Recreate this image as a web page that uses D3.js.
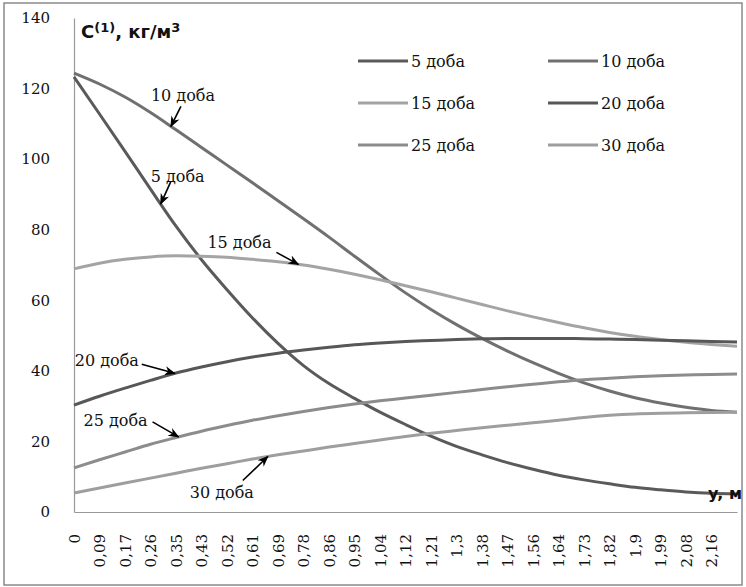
<!DOCTYPE html>
<html>
<head>
<meta charset="utf-8">
<script src="https://cdn.jsdelivr.net/npm/d3@7"></script>
<style>
  body { margin: 0; background: #fff; }
  svg { display: block; }
</style>
</head>
<body>
<div id="chart"></div>
<script>
/* DATA */
const xLabels = ["0","0,09","0,17","0,26","0,35","0,43","0,52","0,61","0,69","0,78","0,86","0,95",
  "1,04","1,12","1,21","1,3","1,38","1,47","1,56","1,64","1,73","1,82","1,9","1,99","2,08","2,16"];
const yTicks = [0, 20, 40, 60, 80, 100, 120, 140];

// one value per x step (27 steps, the last one has no label)
const day5 = [123.3,112.8,102.2,91.5,81,71.5,63,55,47.8,41.5,36.4,32.2,28.3,24.8,21.5,18.6,16.2,14,12.1,10.4,9.1,8,7,6.3,5.7,5.3,5.1];
const day10 = [124.4,121.3,117.6,113.2,108.3,103.3,98.3,93.3,88.2,83.1,77.9,72.5,67.2,62.1,57.4,53.1,49.2,45.6,42.3,39.3,36.6,34.3,32.4,30.9,29.7,28.8,28.3];
const day15 = [68.9,70.5,71.6,72.3,72.6,72.5,72.2,71.6,70.9,70,68.8,67.4,65.8,64.1,62.4,60.6,58.8,57,55.3,53.7,52.2,50.9,49.8,48.9,48.1,47.5,47];
const day20 = [30.3,32.8,35.1,37.3,39.4,41.1,42.6,43.9,45,45.9,46.7,47.4,47.9,48.3,48.6,48.9,49.1,49.2,49.2,49.2,49.1,49,48.9,48.7,48.5,48.3,48.2];
const day25 = [12.5,14.8,17,19.2,21.1,22.9,24.5,26,27.3,28.5,29.6,30.6,31.5,32.3,33.1,33.9,34.7,35.5,36.2,36.9,37.5,37.9,38.3,38.6,38.8,39,39.1];
const day30 = [5.4,6.8,8.2,9.6,11,12.4,13.7,15,16.2,17.3,18.4,19.4,20.4,21.4,22.3,23.1,23.9,24.6,25.3,26,26.8,27.4,27.8,28,28.1,28.2,28.3];

const seriesNames = ["5 доба", "10 доба", "15 доба", "20 доба", "25 доба", "30 доба"];
const seriesValues = [day5, day10, day15, day20, day25, day30];
const seriesColors = ["#5a5a5a", "#707070", "#a4a4a4", "#575757", "#8c8c8c", "#9e9e9e"];

// callouts: which series, at which x step the arrow points
const callouts = [
  { s: 1, at: 3.8,  tx: -20, ty: -25, ax: 10, ay: -20 },
  { s: 0, at: 3.4,  tx: -10, ty: -22, ax: 10, ay: -22 },
  { s: 2, at: 8.8,  tx: -91, ty: -16, ax: -22, ay: -12 },
  { s: 3, at: 3.95, tx: -100, ty: -7, ax: -33, ay: -9 },
  { s: 4, at: 4.1,  tx: -95,  ty: -11, ax: -26, ay: -15 },
  { s: 5, at: 7.6,  tx: -78, ty: 41, ax: -25, ay: 24 }
];

/* LAYOUT */
const W = 746, H = 587;
const margin = { left: 74, right: 9, top: 18, bottom: 75 };

const svg = d3.select("#chart").append("svg")
  .attr("width", W).attr("height", H);

svg.append("rect")
  .attr("x", 4).attr("y", 3)
  .attr("width", W - 8).attr("height", H - 5)
  .attr("fill", "#fff").attr("stroke", "#8a8a8a").attr("stroke-width", 1.5);

const x = d3.scaleLinear()
  .domain([0, day5.length - 1])
  .range([margin.left, W - margin.right]);

const y = d3.scaleLinear()
  .domain([0, 140])
  .range([H - margin.bottom, margin.top]);

// y axis
const yAxis = svg.append("g")
  .attr("transform", `translate(${margin.left},0)`)
  .call(d3.axisLeft(y).tickValues(yTicks).tickSize(0).tickPadding(24).tickFormat(d3.format("d")));
yAxis.select(".domain").attr("stroke", "#999").attr("stroke-width", 1.2);
yAxis.selectAll("text")
  .attr("font-family", "DejaVu Serif").attr("font-size", 15).attr("fill", "#111");

// x axis
const xAxis = svg.append("g")
  .attr("transform", `translate(0,${y(0)})`)
  .call(d3.axisBottom(x).tickValues(d3.range(xLabels.length)).tickSize(0)
    .tickFormat(i => xLabels[i]));
xAxis.select(".domain").attr("stroke", "#999").attr("stroke-width", 1.2);
xAxis.selectAll("text")
  .attr("font-family", "DejaVu Serif").attr("font-size", 15).attr("fill", "#111")
  .attr("text-anchor", "end")
  .attr("transform", "rotate(-90)")
  .attr("x", -22).attr("y", 0).attr("dy", "0.35em");

// lines
const line = d3.line()
  .x((d, i) => x(i))
  .y(d => y(d))
  .curve(d3.curveMonotoneX);

svg.append("g")
  .selectAll("path")
  .data(seriesValues)
  .join("path")
  .attr("d", line)
  .attr("fill", "none")
  .attr("stroke", (d, i) => seriesColors[i])
  .attr("stroke-width", 3);

// axis titles
const yTitle = svg.append("text")
  .attr("x", 81).attr("y", 38)
  .attr("font-family", "DejaVu Sans").attr("font-weight", "bold")
  .attr("font-size", 18).attr("fill", "#111");
yTitle.append("tspan").text("C");
yTitle.append("tspan").attr("font-size", 13).attr("dy", -6).text("(1)");
yTitle.append("tspan").attr("dy", 6).text(", кг/м");
yTitle.append("tspan").attr("font-size", 13).attr("dy", -6).text("3");

svg.append("text")
  .attr("x", 742).attr("y", 499)
  .attr("text-anchor", "end")
  .attr("font-family", "DejaVu Sans").attr("font-weight", "bold")
  .attr("font-size", 16).attr("fill", "#111")
  .text("y, м");

// legend
const legend = svg.append("g");
const leg = legend.selectAll("g")
  .data(seriesNames)
  .join("g")
  .attr("transform", (d, i) => `translate(${i % 2 ? 548 : 358},${61 + Math.floor(i / 2) * 42})`);
leg.append("line")
  .attr("x1", 0).attr("x2", 50)
  .attr("stroke", (d, i) => seriesColors[i]).attr("stroke-width", 3);
leg.append("text")
  .attr("x", 53).attr("dy", "0.35em")
  .attr("font-family", "DejaVu Serif").attr("font-size", 16).attr("fill", "#111")
  .text(d => d);

// callouts with arrows
svg.append("defs").append("marker")
  .attr("id", "arr").attr("viewBox", "0 0 10 10")
  .attr("refX", 9).attr("refY", 5)
  .attr("markerWidth", 7).attr("markerHeight", 7)
  .attr("orient", "auto")
  .append("path").attr("d", "M0,1 L10,5 L0,9 L3,5 Z").attr("fill", "#000");

function valueAt(arr, t) {
  const i = Math.floor(t), f = t - i;
  return arr[i] + (arr[Math.min(i + 1, arr.length - 1)] - arr[i]) * f;
}

const co = svg.append("g").selectAll("g")
  .data(callouts)
  .join("g")
  .attr("transform", d => `translate(${x(d.at)},${y(valueAt(seriesValues[d.s], d.at))})`);
co.append("line")
  .attr("x1", d => d.ax).attr("y1", d => d.ay)
  .attr("x2", 0).attr("y2", 0)
  .attr("stroke", "#000").attr("stroke-width", 1.6)
  .attr("marker-end", "url(#arr)");
co.append("text")
  .attr("x", d => d.tx).attr("y", d => d.ty)
  .attr("font-family", "DejaVu Serif").attr("font-size", 16).attr("fill", "#111")
  .text(d => seriesNames[d.s]);
</script>
</body>
</html>
